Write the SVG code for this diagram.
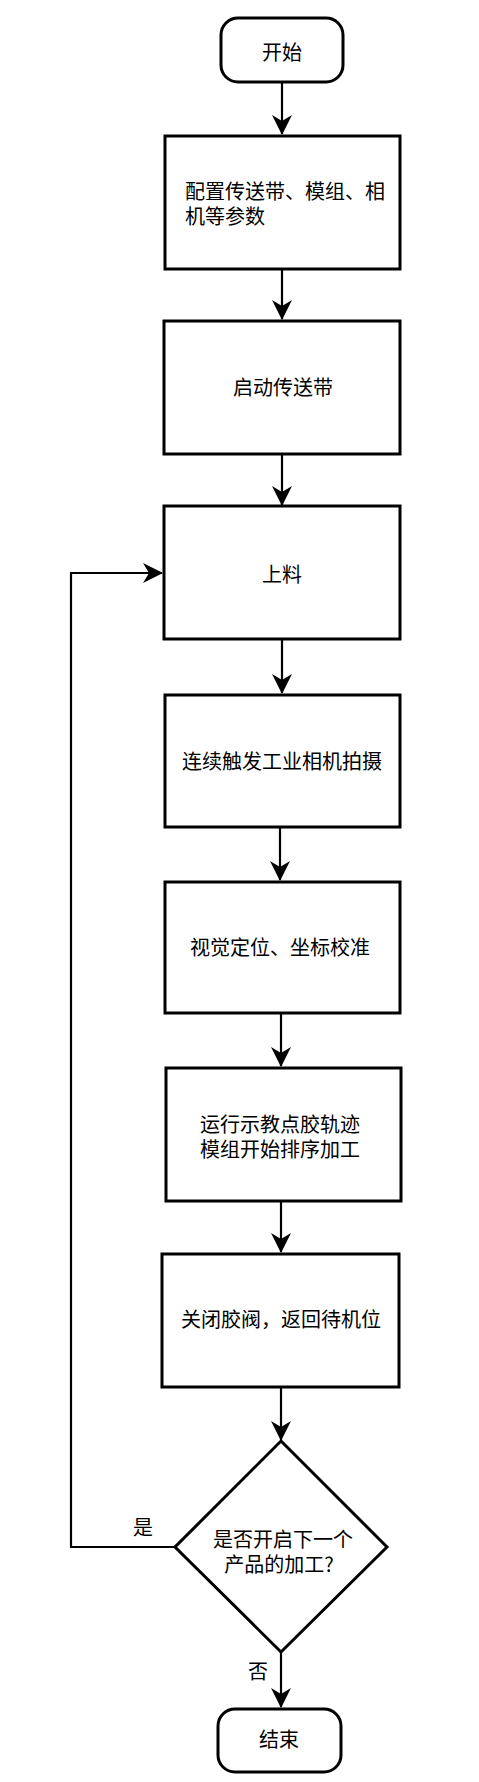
<svg xmlns="http://www.w3.org/2000/svg" width="479" height="1782" viewBox="0 0 479 1782">
<style>
.n{fill:#fff;stroke:#000;stroke-width:3}
.t{font-family:"Noto Sans CJK SC","Noto Sans",sans-serif;font-size:20px;fill:#000}
.c{text-anchor:middle}
.e{fill:none;stroke:#000;stroke-width:2.2}
</style>
<defs>
<marker id="ah" viewBox="0 0 20 20" refX="19" refY="10" markerWidth="20" markerHeight="20" markerUnits="userSpaceOnUse" orient="auto">
<path d="M0,0 L20,10 L0,20 L6,10 Z" fill="#000"/>
</marker>
</defs>
<rect width="479" height="1782" fill="#fff"/>
<g id="connectors">
<path class="e" d="M282,82 V134" marker-end="url(#ah)"/>
<path class="e" d="M282,269 V319" marker-end="url(#ah)"/>
<path class="e" d="M282,454 V505" marker-end="url(#ah)"/>
<path class="e" d="M282,639 V693" marker-end="url(#ah)"/>
<path class="e" d="M280,827 V880" marker-end="url(#ah)"/>
<path class="e" d="M281,1013 V1066" marker-end="url(#ah)"/>
<path class="e" d="M281,1201 V1252" marker-end="url(#ah)"/>
<path class="e" d="M281,1387 V1440" marker-end="url(#ah)"/>
<path class="e" d="M281,1652 V1707" marker-end="url(#ah)"/>
<path class="e" d="M175,1547 H71 V573 H162" marker-end="url(#ah)"/>
<text class="t c" x="143" y="1535">是</text>
<text class="t c" x="258" y="1679">否</text>
</g>
<g id="start">
<rect class="n" x="221" y="18" width="122" height="64" rx="17"/>
<text class="t c" x="282" y="60">开始</text>
</g>
<g id="config">
<rect class="n" x="165" y="136" width="235" height="133"/>
<text class="t" x="185" y="199">配置传送带、模组、相<tspan x="185" dy="25">机等参数</tspan></text>
</g>
<g id="startBelt">
<rect class="n" x="164" y="321" width="236" height="133"/>
<text class="t c" x="283" y="395">启动传送带</text>
</g>
<g id="load">
<rect class="n" x="164" y="506" width="236" height="133"/>
<text class="t c" x="282" y="582">上料</text>
</g>
<g id="camera">
<rect class="n" x="165" y="695" width="235" height="132"/>
<text class="t c" x="282" y="769">连续触发工业相机拍摄</text>
</g>
<g id="vision">
<rect class="n" x="165" y="882" width="235" height="131"/>
<text class="t c" x="280" y="955">视觉定位、坐标校准</text>
</g>
<g id="dispense">
<rect class="n" x="166" y="1068" width="235" height="133"/>
<text class="t c" x="280" y="1132">运行示教点胶轨迹<tspan x="280" dy="25">模组开始排序加工</tspan></text>
</g>
<g id="close">
<rect class="n" x="162" y="1254" width="237" height="133"/>
<text class="t c" x="281" y="1327">关闭胶阀，返回待机位</text>
</g>
<g id="decision">
<polygon class="n" points="281,1441 387,1547 281,1652 175,1547"/>
<text class="t c" x="283" y="1547">是否开启下一个<tspan x="279" dy="25">产品的加工?</tspan></text>
</g>
<g id="end">
<rect class="n" x="218" y="1709" width="123" height="63" rx="17"/>
<text class="t c" x="279" y="1747">结束</text>
</g>
</svg>
